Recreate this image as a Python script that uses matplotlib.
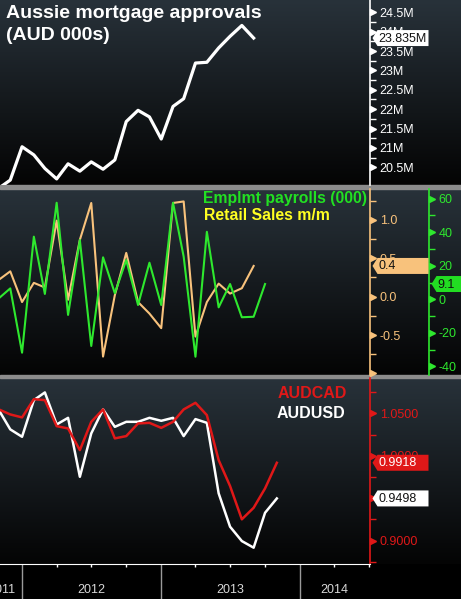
import numpy as np
import pandas as pd
import matplotlib
matplotlib.use("Agg")
import matplotlib.pyplot as plt
import matplotlib.dates as mdates
from matplotlib.patches import Polygon

plt.rcParams['font.family'] = ['Liberation Sans', 'DejaVu Sans']
plt.rcParams['axes.unicode_minus'] = False

# monthly data, Nov 2011 onwards
months = pd.date_range('2011-11-01', periods=25, freq='MS')

mortgage = [19.96, 20.17, 21.03, 20.82, 20.47, 20.20, 20.59, 20.40, 20.64, 20.45,
            20.69, 21.68, 21.97, 21.80, 21.23, 22.07, 22.27, 23.19, 23.21, 23.58,
            23.88, 24.16, 23.835]
retail = [0.22, 0.33, -0.07, 0.18, 0.12, 0.99, -0.04, 0.74, 1.22, -0.78, 0.02, 0.57,
          -0.07, -0.22, -0.41, 1.22, 1.24, -0.52, -0.07, 0.17, 0.04, 0.11, 0.4]
payrolls = [0.6, 6.5, -31.8, 37.3, 3.2, 57.5, -9.3, 35.3, -27.8, 25.0, 3.6, 23.4,
            -3.4, 21.8, -3.4, 57.5, 25.4, -34.2, 40.2, -4.8, 9.1, -10.7, -10.4, 9.1]
audcad = [1.0546, 1.0487, 1.0452, 1.0667, 1.0655, 1.0349, 1.0322, 1.0067, 1.0400,
          1.0546, 1.0205, 1.0232, 1.0381, 1.0388, 1.0329, 1.0400, 1.0546, 1.0624,
          1.0479, 0.9949, 0.9644, 0.9252, 0.9388, 0.9616, 0.9918]
audusd = [1.0538, 1.0311, 1.0224, 1.0655, 1.0746, 1.0369, 1.0447, 0.9753, 1.0264,
          1.0546, 1.0341, 1.0400, 1.0400, 1.0447, 1.0412, 1.0447, 1.0232, 1.0432,
          1.0388, 0.9558, 0.9165, 0.8996, 0.8918, 0.9329, 0.9498]

year_labels = ['2011', '2012', '2013', '2014']
year_label_pos = pd.to_datetime(['2011-11-10', '2012-07-01', '2013-07-02', '2014-04-01'])

W, H = 461, 599
XMIN, XMAX = pd.Timestamp('2011-11-04'), pd.Timestamp('2014-07-04')
GREEN, ORANGE, RED = '#2ee82e', '#f8c27c', '#e01818'

fig = plt.figure(figsize=(W / 100, H / 100), dpi=100)
fig.patch.set_facecolor('black')

# background: gradient panels + grey separators, in pixel coords
bg = fig.add_axes([0, 0, 1, 1], zorder=0)
g = np.linspace(0, 1, 256)[:, None, None]
ctop = np.array([40, 50, 58]) / 255
cbot = np.array([4, 4, 4]) / 255
img = ctop * (1 - g) + cbot * g
for y0, y1 in [(0, 185), (189, 375), (378, 564)]:
    bg.imshow(img, extent=[0, W, y1, y0], aspect='auto', interpolation='bilinear')
bg.axhspan(185, 189, color='#8c8c8c')
bg.axhspan(375, 378, color='#8c8c8c')
bg.set_xlim(0, W)
bg.set_ylim(H, 0)
bg.axis('off')


def panel(y0, y1):
    ax = fig.add_axes([0, 1 - y1 / H, 370 / W, (y1 - y0) / H], zorder=2)
    ax.set_facecolor('none')
    for s in ['left', 'top', 'bottom']:
        ax.spines[s].set_visible(False)
    ax.tick_params(axis='x', which='both', bottom=False, labelbottom=False)
    return ax


def right_axis(ax, color, majors, labels, minors, xpos=1.0):
    ax.yaxis.tick_right()
    ax.set_yticks(majors)
    ax.set_yticklabels(labels)
    ax.set_yticks(minors, minor=True)
    ax.tick_params(axis='y', which='major', length=0, pad=7, labelsize=9, labelcolor=color)
    ax.tick_params(axis='y', which='minor', length=4, width=1, color=color)
    ax.spines['right'].set_color(color)
    ax.spines['right'].set_linewidth(1.2)
    if xpos != 1.0:
        ax.spines['right'].set_position(('axes', xpos))
    ax.plot([xpos + 0.009] * len(majors), majors, '>', ms=4.5, color=color,
            transform=ax.get_yaxis_transform(), clip_on=False)


# top: mortgage approvals
ax1 = panel(0, 185)
ax1.plot(months[:len(mortgage)], mortgage, color='white', lw=2.3)
t1 = np.arange(20.5, 24.51, 0.5)
right_axis(ax1, 'white', t1, [f'{v:g}M' for v in t1], t1[:-1] + 0.25)
ax1.set_ylim(20.043, 24.817)
ax1.set_xlim(XMIN, XMAX)

# middle: retail sales (orange axis) and payrolls (green axis)
ax2 = panel(189, 375)
ax2b = ax2.twinx()
ax2b.set_facecolor('none')
for s in ['left', 'top', 'bottom']:
    ax2b.spines[s].set_visible(False)

ax2.plot(months[:len(retail)], retail, color=ORANGE, lw=1.5)
t2 = [-1.0, -0.5, 0.0, 0.5, 1.0]
right_axis(ax2, ORANGE, t2, ['', '-0.5', '0.0', '0.5', '1.0'], [-0.75, -0.25, 0.25, 0.75, 1.25])
ax2.set_ylim(-1.02, 1.402)
ax2.set_xlim(XMIN, XMAX)

ax2b.plot(months[:len(payrolls)], payrolls, color=GREEN, lw=1.5)
t2b = [-40, -20, 0, 20, 40, 60]
right_axis(ax2b, GREEN, t2b, [str(v) for v in t2b], [-30, -10, 10, 30, 50], xpos=429 / 370)
ax2b.set_ylim(-45.1, 65.7)
ax2b.set_xlim(XMIN, XMAX)

# bottom: AUDCAD / AUDUSD
ax3 = panel(378, 564)
ax3.plot(months[:len(audusd)], audusd, color='white', lw=1.8)
ax3.plot(months[:len(audcad)], audcad, color=RED, lw=1.8)
t3 = [0.90, 0.95, 1.00, 1.05]
right_axis(ax3, RED, t3, [f'{v:.4f}' for v in t3], [0.875, 0.925, 0.975, 1.025, 1.075])
ax3.set_ylim(0.8726, 1.0916)
ax3.set_xlim(XMIN, XMAX)
ax3.spines['bottom'].set_visible(True)
ax3.spines['bottom'].set_color('white')
ax3.xaxis.set_major_locator(mdates.YearLocator())
ax3.xaxis.set_minor_locator(mdates.MonthLocator(bymonth=[1, 4, 7, 10]))
ax3.tick_params(axis='x', which='major', bottom=True, length=26, width=1, color='#9a9a9a')
ax3.tick_params(axis='x', which='minor', bottom=True, length=2.5, width=1, color='white')
for lab, pos in zip(year_labels, year_label_pos):
    ax3.text(pos, -0.14, lab, transform=ax3.get_xaxis_transform(), color='#d8d8d8',
             fontsize=9, ha='center', va='center', clip_on=False)

# overlay: titles and last-value tags, in pixel coords
ov = fig.add_axes([0, 0, 1, 1], zorder=10)
ov.set_facecolor('none')
ov.set_xlim(0, W)
ov.set_ylim(H, 0)
ov.axis('off')

ov.text(6, 13, 'Aussie mortgage approvals', color='white', fontsize=14, weight='bold', va='center')
ov.text(6, 35, '(AUD 000s)', color='white', fontsize=14, weight='bold', va='center')
ov.text(203, 198, 'Emplmt payrolls (000)', color='#22e022', fontsize=11.3, weight='bold', va='center')
ov.text(204, 215, 'Retail Sales m/m', color='#ffff22', fontsize=11.3, weight='bold', va='center')
ov.text(278, 393, 'AUDCAD', color=RED, fontsize=11.5, weight='bold', va='center')
ov.text(277, 414, 'AUDUSD', color='white', fontsize=11.5, weight='bold', va='center')


def tag(ax, value, text, fc, tc, x0, x1, hh=8):
    y = H - ax.transData.transform((0, value))[1]
    ov.add_patch(Polygon([(x0, y), (x0 + 5, y - hh), (x1, y - hh), (x1, y + hh), (x0 + 5, y + hh)],
                         closed=True, facecolor=fc, edgecolor='none'))
    ov.text(x0 + 6, y + 0.5, text, color=tc, fontsize=9, va='center', ha='left')


tag(ax1, mortgage[-1], f'{mortgage[-1]:g}M', 'white', '#111111', 372.5, 428.5)
tag(ax2, retail[-1], f'{retail[-1]:g}', ORANGE, '#111111', 372.5, 428.5)
tag(ax2b, payrolls[-1], f'{payrolls[-1]:g}', '#22dd22', '#111111', 431.5, 461)
tag(ax3, audcad[-1], f'{audcad[-1]:.4f}', RED, 'white', 372.5, 428.5)
tag(ax3, audusd[-1], f'{audusd[-1]:.4f}', 'white', '#111111', 372.5, 428.5)

fig.savefig('out.png', dpi=100, facecolor='black')
